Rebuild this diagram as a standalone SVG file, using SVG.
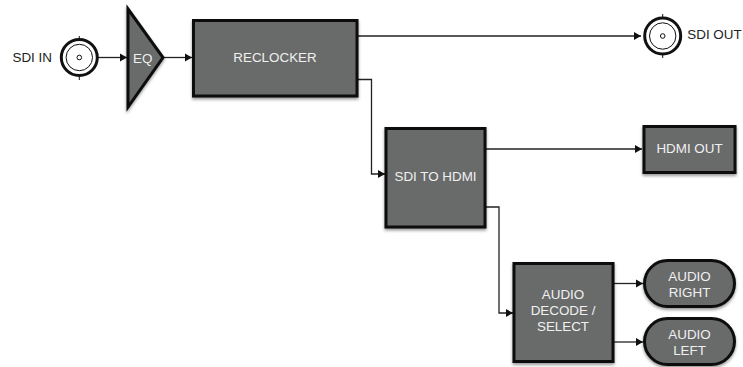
<svg xmlns="http://www.w3.org/2000/svg" width="743" height="367" viewBox="0 0 743 367">
<style>
.b{fill:#696b6b;stroke:#0d0d0d;stroke-width:3;filter:url(#s)}
.w{font:13.400px "Liberation Sans",Arial,sans-serif;fill:#f0f0f0;text-anchor:middle}
.k{font:13.400px "Liberation Sans",Arial,sans-serif;fill:#222}
.c{fill:none;stroke:#222;stroke-width:1.300;marker-end:url(#a)}
.o{fill:#fff;stroke:#111}
</style>
<defs>
<marker id="a" markerUnits="userSpaceOnUse" markerWidth="9" markerHeight="9" refX="7" refY="4.500" orient="auto"><path d="M0 0.500L7 4.500L0 8.500Z" fill="#111"/></marker>
<filter id="s" x="-15%" y="-15%" width="130%" height="130%"><feDropShadow dx="0" dy="2" stdDeviation="1.600" flood-color="#000" flood-opacity=".4"/></filter>
</defs>
<g id="connectors">
<path class="c" d="M98 57.500H127"/>
<path class="c" d="M164 57.500H192"/>
<path class="c" d="M358 36H641"/>
<path class="c" d="M358 79.500H371.500V174H385"/>
<path class="c" d="M486 149H642"/>
<path class="c" d="M486 207H499V313H513"/>
<path class="c" d="M614 283.500H643"/>
<path class="c" d="M614 342H643"/>
</g>
<g id="sdi-in">
<text class="k" x="12.500" y="62.300">SDI IN</text>
<path d="M79.300 36V40M79.300 75V80" stroke="#111"/>
<circle class="o" cx="79.300" cy="57.500" r="18" stroke-width="3"/>
<circle class="o" cx="79.300" cy="57.500" r="13.200" stroke-width="1"/>
<circle class="o" cx="79.300" cy="57.500" r="2.300" stroke-width="1"/>
</g>
<g id="eq">
<path class="b" d="M128 9L163 57.500L128 107Z"/>
<text class="w" x="142.700" y="62.700">EQ</text>
</g>
<g id="reclocker">
<rect class="b" x="193.500" y="20.500" width="163.500" height="75.500"/>
<text class="w" x="275" y="61.500">RECLOCKER</text>
</g>
<g id="sdi-out">
<path d="M662.700 14V18M662.700 54V58" stroke="#111"/>
<circle class="o" cx="662.700" cy="36" r="18" stroke-width="3"/>
<circle class="o" cx="662.700" cy="36" r="13.200" stroke-width="1"/>
<circle class="o" cx="662.700" cy="36" r="2.300" stroke-width="1"/>
<text class="k" x="687.300" y="39.300">SDI OUT</text>
</g>
<g id="sdi-to-hdmi">
<rect class="b" x="386" y="128.500" width="99" height="98.500"/>
<text class="w" x="435.500" y="181">SDI TO HDMI</text>
</g>
<g id="hdmi-out">
<rect class="b" x="644" y="126.500" width="91" height="46"/>
<text class="w" x="689.500" y="152.600">HDMI OUT</text>
</g>
<g id="audio-decode">
<rect class="b" x="514" y="263.500" width="99" height="98"/>
<text class="w" x="563" y="298.800">AUDIO</text>
<text class="w" x="563" y="315">DECODE /</text>
<text class="w" x="563" y="331">SELECT</text>
</g>
<g id="audio-right">
<rect class="b" x="644.500" y="260.500" width="90" height="46" rx="23"/>
<text class="w" x="689.500" y="281">AUDIO</text>
<text class="w" x="689.500" y="296.800">RIGHT</text>
</g>
<g id="audio-left">
<rect class="b" x="644.500" y="318.500" width="90" height="46" rx="23"/>
<text class="w" x="689.500" y="339">AUDIO</text>
<text class="w" x="689.500" y="354.500">LEFT</text>
</g>
</svg>
